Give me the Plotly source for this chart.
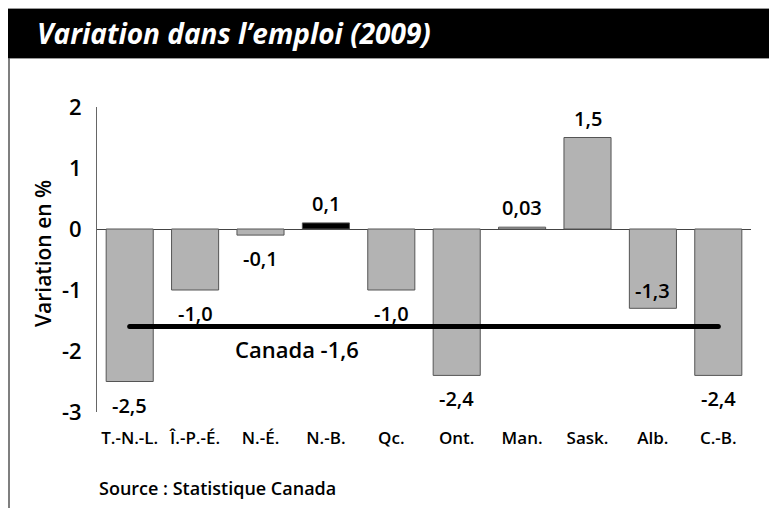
import plotly.graph_objects as go

provinces = ["T.-N.-L.", "Î.-P.-É.", "N.-É.", "N.-B.", "Qc.", "Ont.", "Man.", "Sask.", "Alb.", "C.-B."]
variation = [-2.5, -1.0, -0.1, 0.1, -1.0, -2.4, 0.03, 1.5, -1.3, -2.4]
canada = -1.6
y_ticks = [2, 1, 0, -1, -2, -3]

# page offset (default body margin of the html page)
OFF = 8
W, H = 769, 500
L, T = 97 - OFF, 107 - OFF
PW, PH = 654, 305
R = W - L - PW
B = H - T - PH

def px(sx):
    return (sx - OFF - L) / PW

def py(sy):
    return (T + PH - (sy - OFF)) / PH

FONT = "Open Sans"

def fmt(v):
    return str(v).replace(".", ",")

colors = ["#000000" if p == "N.-B." else "#b3b3b3" for p in provinces]

fig = go.Figure()
fig.add_trace(go.Bar(
    x=provinces, y=variation,
    marker=dict(color=colors, line=dict(color="#555555", width=1)),
    width=0.72, hoverinfo="skip", showlegend=False,
))
fig.add_trace(go.Scatter(
    x=[provinces[0], provinces[-1]], y=[canada, canada],
    mode="lines+markers", line=dict(color="black", width=5),
    marker=dict(color="black", size=5), showlegend=False, hoverinfo="skip",
))

lab_font = dict(family=FONT, size=20, color="black", weight=600)
annotations = []
for p, v in zip(provinces, variation):
    if p == "Alb.":
        annotations.append(dict(x=p, y=v, text=fmt(v), showarrow=False, yanchor="bottom", yshift=2, font=lab_font))
    elif v < 0:
        annotations.append(dict(x=p, y=v, text=fmt(v), showarrow=False, yanchor="top", yshift=-8, font=lab_font))
    else:
        annotations.append(dict(x=p, y=v, text=fmt(v), showarrow=False, yanchor="bottom", yshift=4, font=lab_font))

annotations.append(dict(x=2.56, y=canada, text="Canada " + fmt(canada), showarrow=False,
                        yanchor="top", yshift=-5,
                        font=dict(family=FONT, size=22, color="black", weight=600)))
annotations.append(dict(xref="paper", yref="paper", x=px(43), y=py(254), text="Variation en %",
                        textangle=-90, showarrow=False, xanchor="center", yanchor="middle",
                        font=dict(family=FONT, size=21, color="black", weight=600)))
annotations.append(dict(xref="paper", yref="paper", x=px(97), y=py(488), text="Source : Statistique Canada",
                        showarrow=False, xanchor="left", yanchor="middle",
                        font=dict(family=FONT, size=18, color="black", weight=600)))
annotations.append(dict(xref="paper", yref="paper", x=px(35), y=py(33), text="<i>Variation dans l’emploi (2009)</i>",
                        showarrow=False, xanchor="left", yanchor="middle",
                        font=dict(family=FONT, size=28, color="white", weight=700)))

shapes = [
    dict(type="rect", xref="paper", yref="paper", x0=px(8), x1=px(777), y0=py(58), y1=py(9),
         fillcolor="black", line=dict(width=0), layer="below"),
    dict(type="line", xref="paper", yref="paper", x0=px(8), x1=px(777), y0=py(8.5), y1=py(8.5),
         line=dict(color="#999999", width=1)),
    dict(type="line", xref="paper", yref="paper", x0=px(8), x1=px(777), y0=py(58.5), y1=py(58.5),
         line=dict(color="#999999", width=1)),
    dict(type="line", xref="paper", yref="paper", x0=px(9), x1=px(9), y0=py(58), y1=py(508),
         line=dict(color="#555555", width=1.5)),
]

fig.update_layout(
    width=W, height=H,
    margin=dict(l=L, r=R, t=T, b=B, pad=0),
    paper_bgcolor="white", plot_bgcolor="white",
    bargap=0.28,
    annotations=annotations, shapes=shapes,
    font=dict(family=FONT, color="black"),
)
fig.update_xaxes(
    type="category", showgrid=False, showline=False, zeroline=False,
    ticks="", ticklabelstandoff=14,
    tickfont=dict(family=FONT, size=17, color="black", weight=600),
    range=[-0.5, len(provinces) - 0.5],
)
fig.update_yaxes(
    range=[-3, 2], tickvals=y_ticks, ticktext=[str(t) for t in y_ticks],
    showgrid=False, showline=True, linecolor="#666666", linewidth=1,
    zeroline=True, zerolinecolor="#444444", zerolinewidth=1,
    ticks="", ticklabelstandoff=10,
    tickfont=dict(family=FONT, size=22, color="black", weight=600),
)

fig.write_html("out.html")
